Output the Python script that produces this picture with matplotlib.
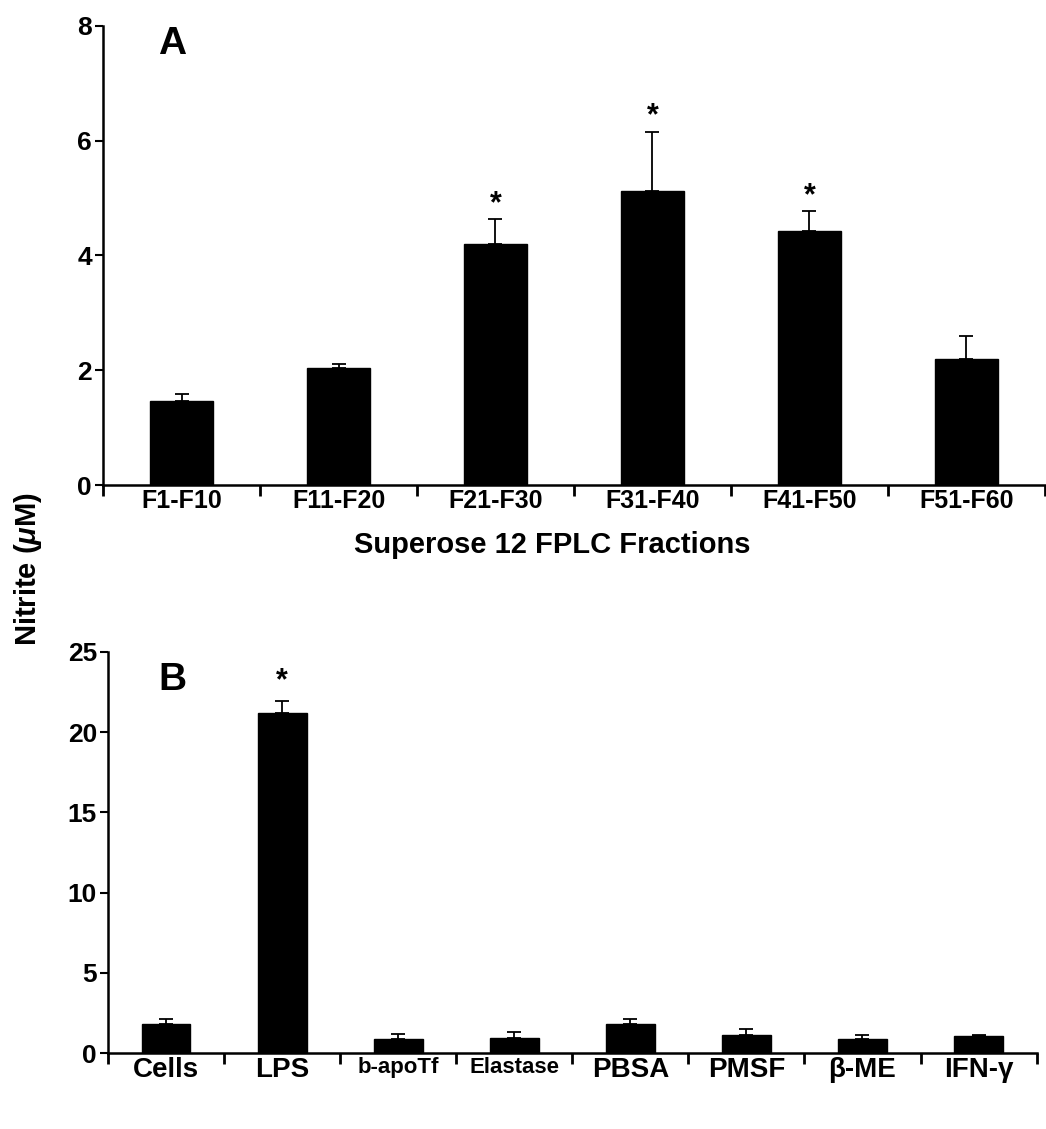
import numpy as np
import matplotlib
matplotlib.use("Agg")
import matplotlib.pyplot as plt

# Panel A - Superose 12 FPLC fractions
fractions = ["F1-F10", "F11-F20", "F21-F30", "F31-F40", "F41-F50", "F51-F60"]
nitrite_a = [1.47, 2.04, 4.2, 5.12, 4.42, 2.2]
err_a = [0.12, 0.07, 0.43, 1.03, 0.35, 0.4]
signif_a = [False, False, True, True, True, False]

# Panel B - treatments
treatments = ["Cells", "LPS", "b-apoTf", "Elastase", "PBSA", "PMSF", "\u03b2-ME", "IFN-\u03b3"]
nitrite_b = [1.8, 21.2, 0.85, 0.95, 1.8, 1.1, 0.85, 1.05]
err_b = [0.3, 0.75, 0.35, 0.35, 0.3, 0.4, 0.3, 0.1]
signif_b = [False, True, False, False, False, False, False, False]

plt.rcParams['font.family'] = ['Liberation Sans', 'DejaVu Sans']
plt.rcParams['font.weight'] = 'bold'
plt.rcParams['mathtext.fontset'] = 'custom'
plt.rcParams['mathtext.it'] = 'Liberation Sans:italic:bold'
plt.rcParams['mathtext.rm'] = 'Liberation Sans:bold'

fig = plt.figure(figsize=(10.46, 11.29), dpi=100)
ax_a = fig.add_axes([0.0985, 0.5704, 0.9005, 0.4066])
ax_b = fig.add_axes([0.1033, 0.0673, 0.8877, 0.3552])


def draw_panel(ax, labels, vals, errs, stars, ymax, yticks, width, label_fs, star_gap):
    x = np.arange(len(labels))
    ax.bar(x, vals, width=width, color='black', edgecolor='black')
    ax.errorbar(x, vals, yerr=[np.zeros(len(vals)), errs], fmt='none',
                ecolor='black', elinewidth=1.3, capsize=5, capthick=1.3)
    for xi, v, e, s in zip(x, vals, errs, stars):
        if s:
            ax.text(xi, v + e + star_gap, '*', ha='center', va='center',
                    fontsize=22, fontweight='bold')
    ax.set_xlim(-0.5, len(labels) - 0.5)
    ax.set_ylim(0, ymax)
    ax.set_yticks(yticks)
    ax.set_yticklabels([str(t) for t in yticks], fontsize=19, fontweight='bold')
    # boundary ticks on the x axis, labels sit on minor ticks at bar centres
    ax.set_xticks(np.arange(-0.5, len(labels), 1.0))
    ax.set_xticklabels([])
    ax.set_xticks(x, minor=True)
    ax.set_xticklabels(labels, minor=True, fontsize=label_fs, fontweight='bold')
    ax.tick_params(axis='x', which='major', direction='out', length=8, width=2)
    ax.tick_params(axis='x', which='minor', length=0, pad=3)
    ax.tick_params(axis='y', direction='out', length=6, width=1.5, pad=2)
    for side in ['top', 'right']:
        ax.spines[side].set_visible(False)
    for side in ['left', 'bottom']:
        ax.spines[side].set_linewidth(1.8)


draw_panel(ax_a, fractions, nitrite_a, err_a, signif_a, 8, [0, 2, 4, 6, 8],
           0.4, 18, 0.27)
draw_panel(ax_b, treatments, nitrite_b, err_b, signif_b, 25, [0, 5, 10, 15, 20, 25],
           0.42, 20, 1.2)

# smaller labels for the two crowded names in panel B
for t in ax_b.get_xticklabels(minor=True):
    if t.get_text() in ("b-apoTf", "Elastase"):
        t.set_fontsize(16)

ax_a.text(0.073, 0.96, 'A', transform=ax_a.transAxes, fontsize=28,
          fontweight='bold', va='center', ha='center')
ax_b.text(0.069, 0.93, 'B', transform=ax_b.transAxes, fontsize=28,
          fontweight='bold', va='center', ha='center')

fig.text(0.528, 0.517, 'Superose 12 FPLC Fractions', ha='center', va='center',
         fontsize=21, fontweight='bold')
fig.text(0.027, 0.496, r'Nitrite ($\mu$M)', rotation=90, ha='center',
         va='center', fontsize=21, fontweight='bold')

fig.savefig('out.png', dpi=100)
